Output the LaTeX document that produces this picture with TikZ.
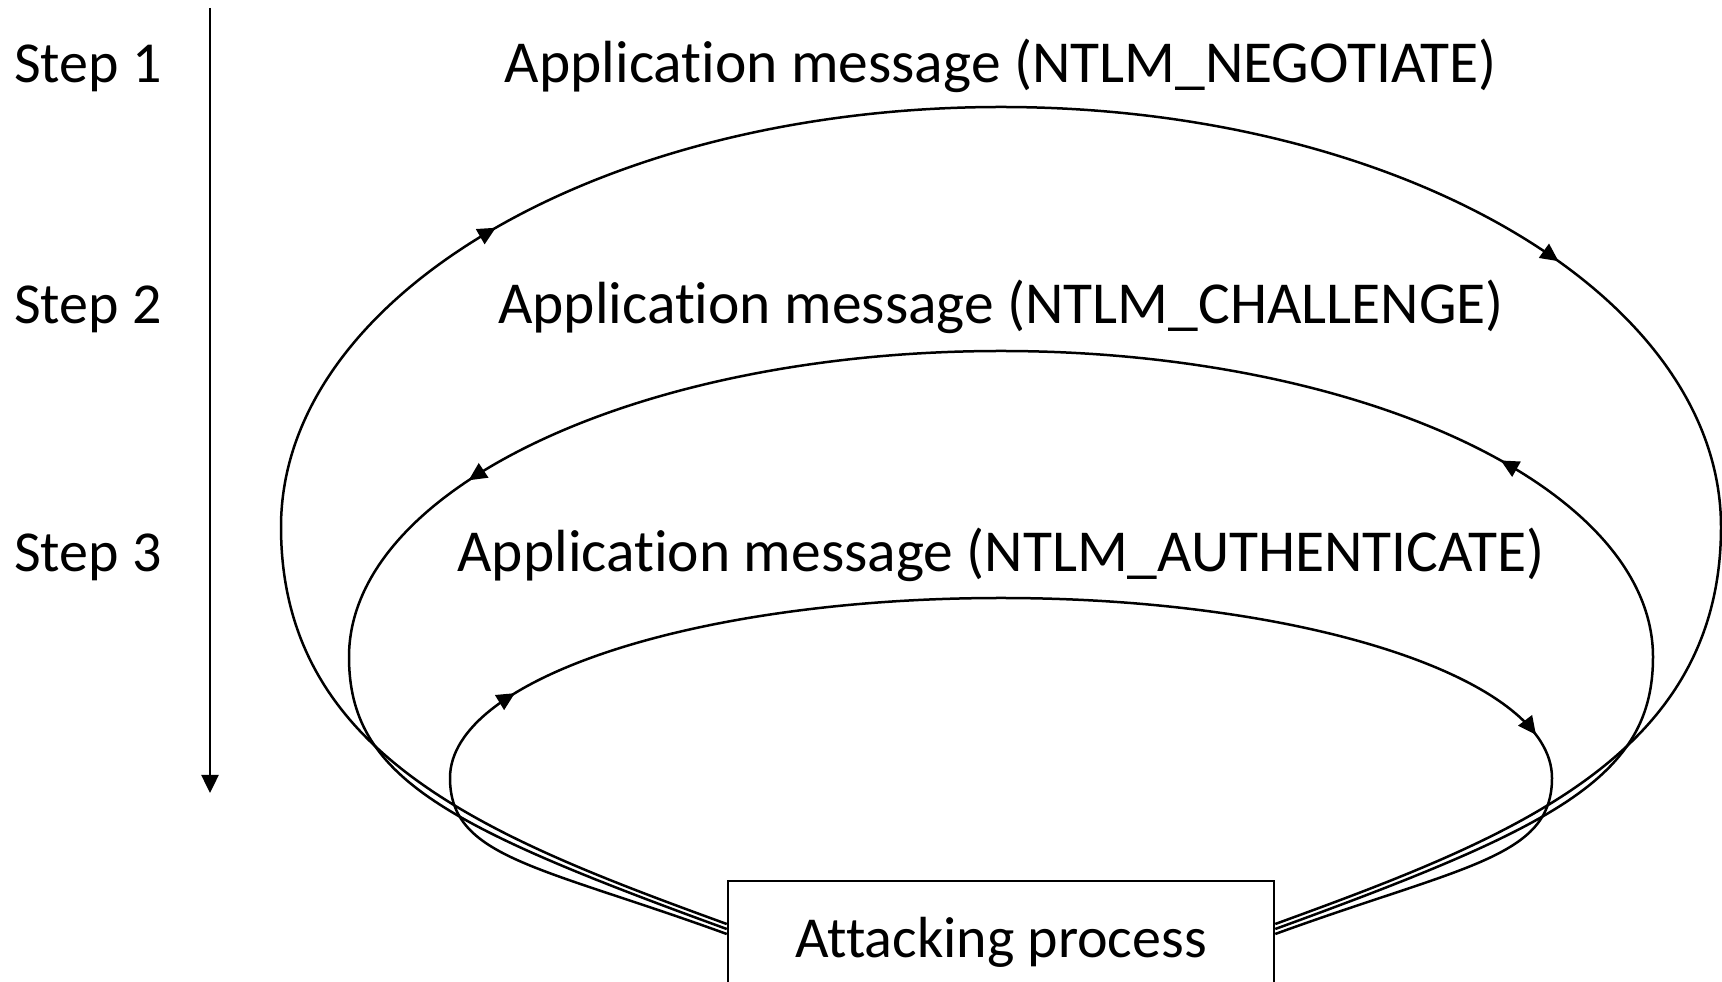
\documentclass[tikz,border=0pt]{standalone}
\usepackage{fontspec}
\setmainfont{Carlito}[Ligatures=NoCommon]
\usetikzlibrary{positioning, arrows.meta, decorations.markings}

\tikzset{
	lbl/.style={font=\fontsize{58}{70}\selectfont, inner sep=0pt},
	msg/.style={font=\fontsize{59.5}{70}\selectfont, inner sep=0pt, anchor=base},
	flow/.style={line width=2.5pt},
	>={Triangle[length=18pt, width=17pt]},
	twoarrows/.style 2 args={postaction={decorate}, decoration={markings,
		mark=at position #1 with {\arrow{>}},
		mark=at position #2 with {\arrow{>}}}}
}

\begin{document}
\begin{tikzpicture}[x=1pt, y=1pt]
		\useasboundingbox (0,0) rectangle (1722,982);
		\clip (0,0) rectangle (1722,982);
		% labels on the left
		\node[lbl, anchor=base west] (step1) at (14,899) {Step 1};
		\node[lbl, anchor=base west] (step2) at (14,658) {Step 2};
		\node[lbl, anchor=base west] (step3) at (14,410) {Step 3};
		\coordinate (ttop) at (210,974);
		\coordinate (tbot) at (210,189);
		\draw[flow, ->] (ttop) -- (tbot);
		% messages
		\node[msg] (neg) at (1001,899) {Application message (NTLM\_NEGOTIATE)};
		\node[msg] (chal) at (1001,658) {Application message (NTLM\_CHALLENGE)};
		\node[msg] (auth) at (1001,410) {Application message (NTLM\_AUTHENTICATE)};
		\node[lbl, draw, line width=2.5pt, minimum width=546pt, minimum height=122pt] (attack) at (1001,40) {Attacking process};
		% turning points of the loops
		\coordinate (negl) at (281,455);
		\coordinate (chalr) at (1653,325);
		\coordinate (authl) at (450,204);
		\draw[flow, twoarrows={0.331}{0.689}] ([yshift=18]attack.west) .. controls +(160:250) and +(-90:230) .. (negl)
			arc[start angle=180, end angle=0, x radius=720, y radius=420]
			.. controls +(-90:230) and +(20:250) .. ([yshift=18]attack.east);
		\draw[flow, twoarrows={0.297}{0.718}] ([yshift=13]attack.east) .. controls +(20:300) and +(-90:120) .. (chalr)
			arc[start angle=0, end angle=180, x radius=652, y radius=306]
			.. controls +(-90:120) and +(160:300) .. ([yshift=13]attack.west);
		\draw[flow, twoarrows={0.236}{0.798}] ([yshift=8]attack.west) .. controls +(160:200) and +(-90:80) .. (authl)
			arc[start angle=180, end angle=0, x radius=551, y radius=180]
			.. controls +(-90:80) and +(20:200) .. ([yshift=8]attack.east);
	\end{tikzpicture}
\end{document}
